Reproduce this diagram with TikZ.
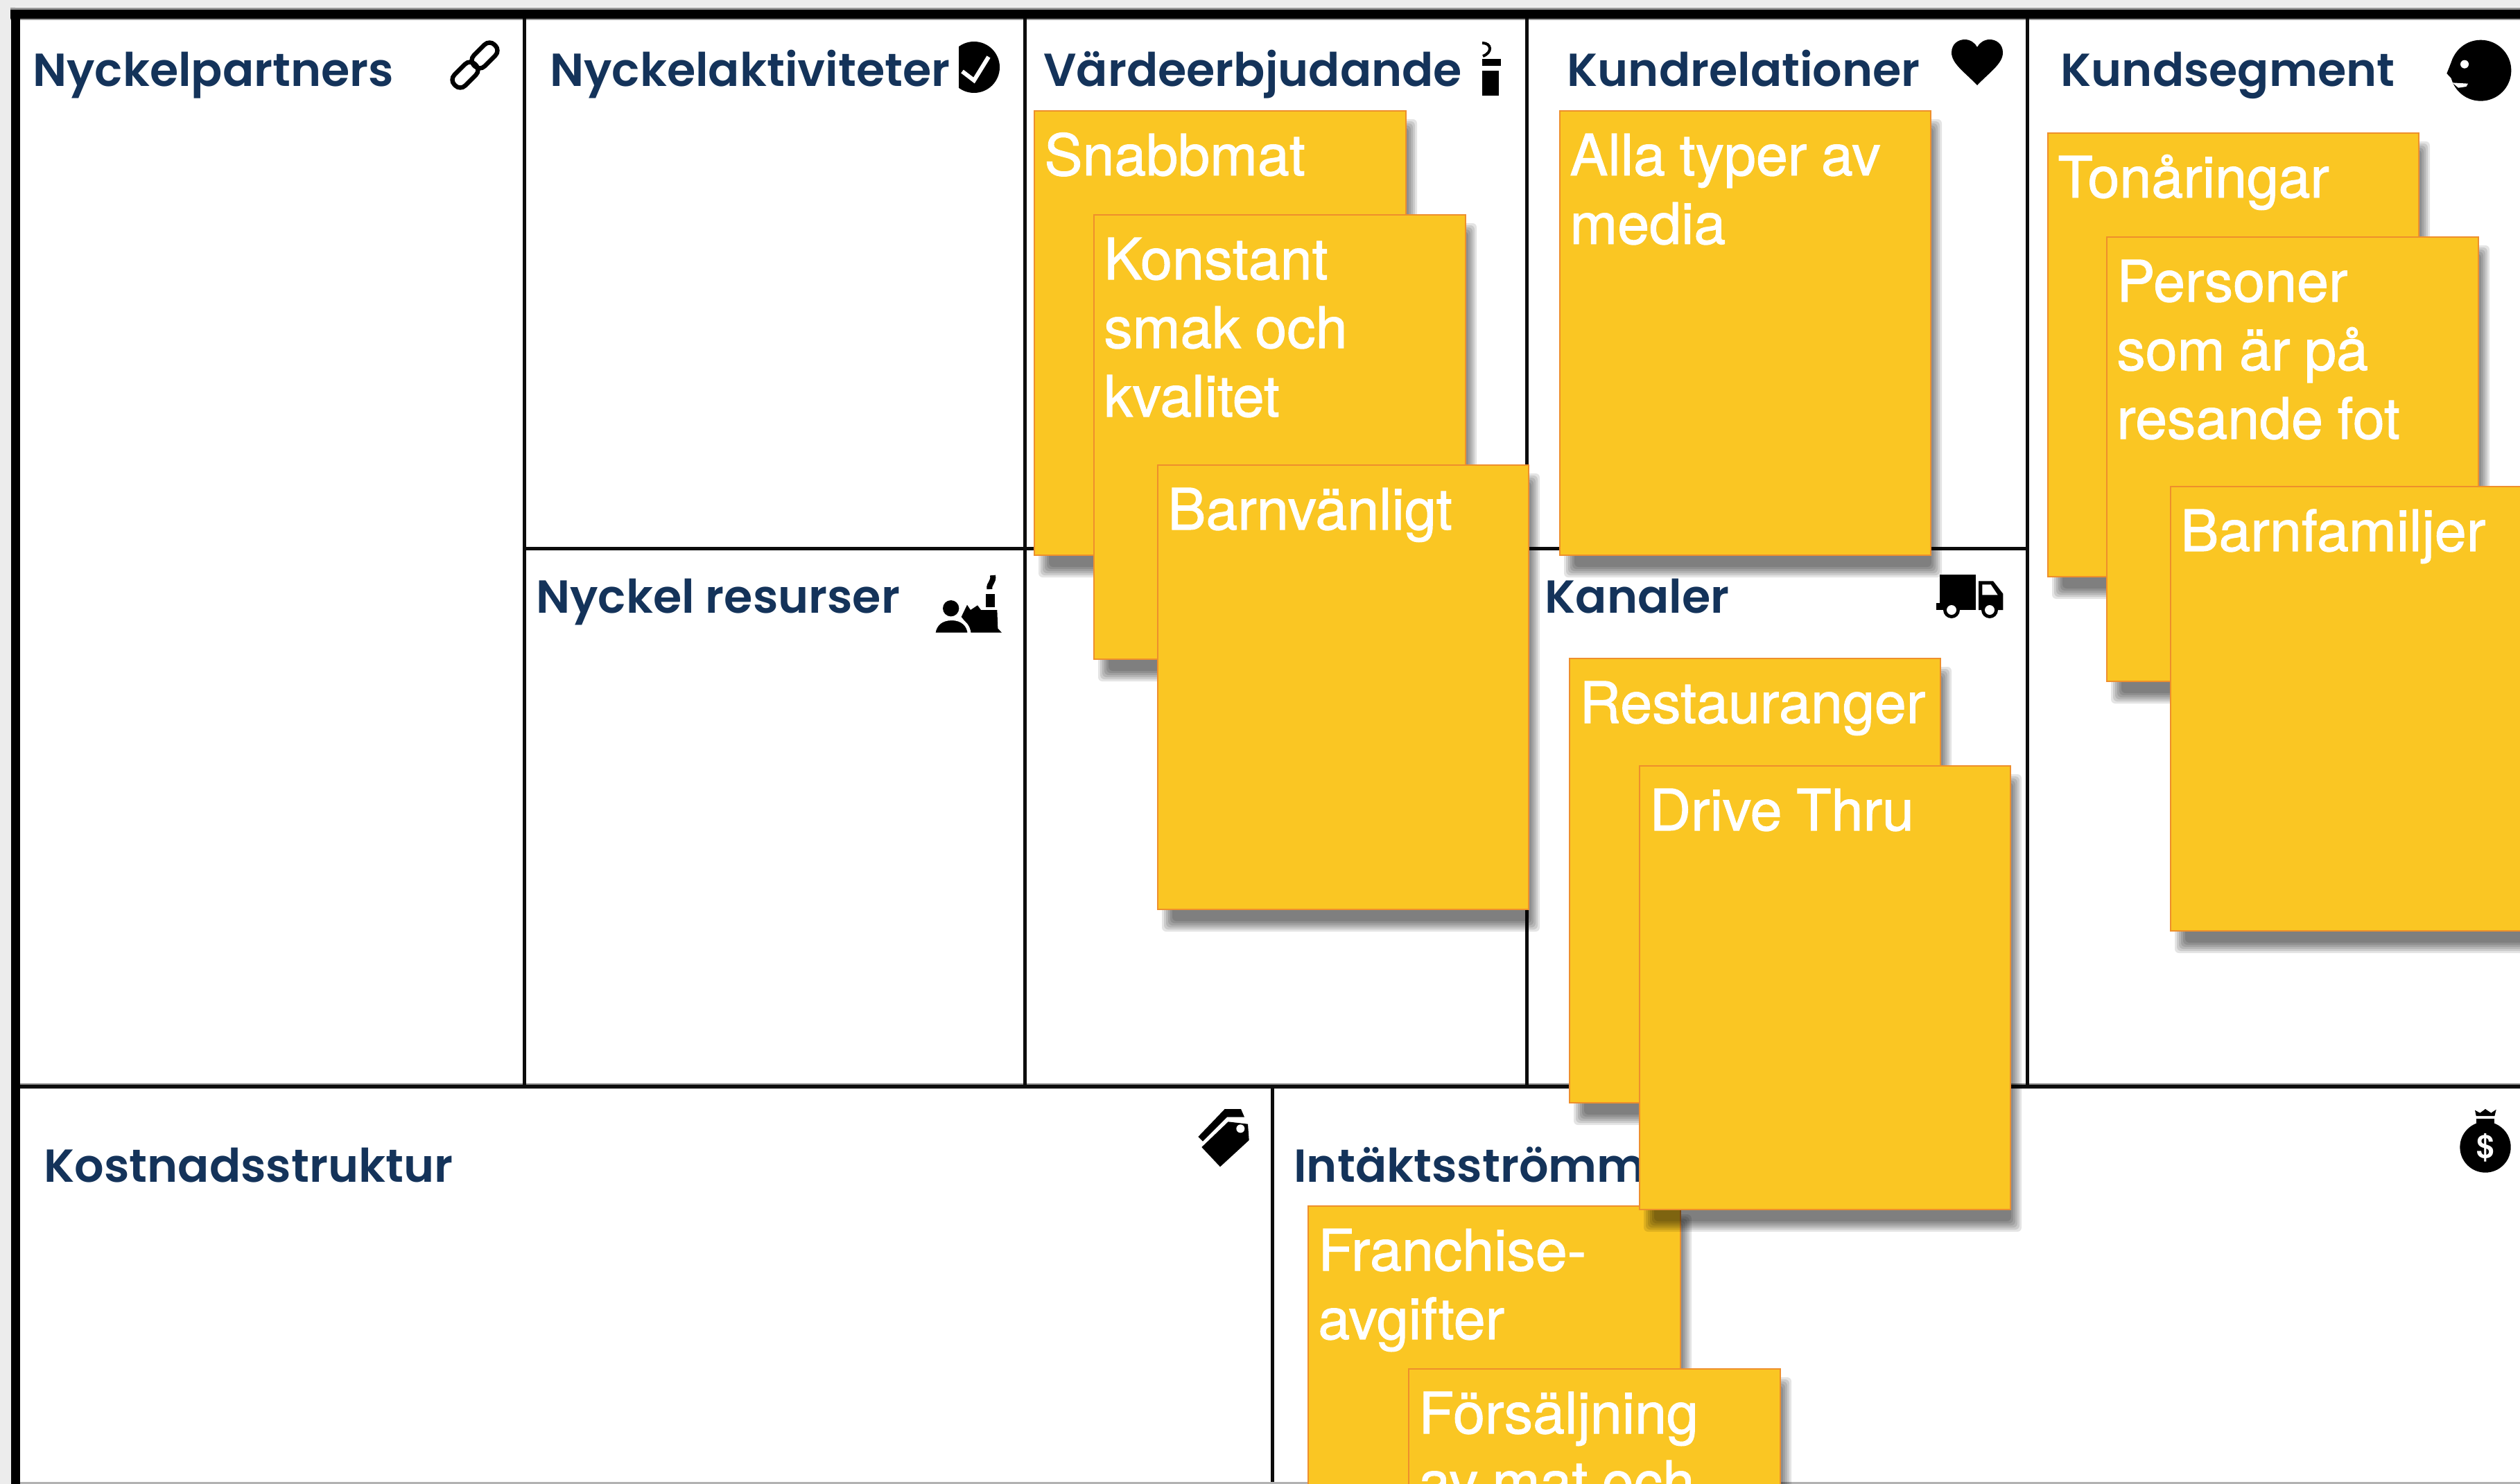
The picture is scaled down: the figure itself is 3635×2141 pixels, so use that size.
\documentclass[tikz,border=0pt]{standalone}
\usepackage{fontspec}
\setmainfont{TeX Gyre Heros}
\newfontfamily\hdfont{Poppins SemiBold}
\newfontfamily\notefont{TeX Gyre Heros}[FakeBold=1.2]
\definecolor{navy}{HTML}{14335A}
\definecolor{notefill}{HTML}{FAC623}
\definecolor{noteline}{HTML}{EE8F2C}
\definecolor{margin}{HTML}{ECECEC}
\definecolor{ink}{HTML}{0C0C0C}
\tikzset{
  gridline/.style={draw=ink,line width=2.5pt},
  softline/.style={draw=black!45,line width=3.6pt},
  hd/.style={inner sep=0pt,anchor=base west,text=navy,font=\hdfont\fontsize{33.4}{40}\selectfont},
  notebox/.style={draw=noteline,fill=notefill,line width=1.2pt,inner sep=0pt,outer sep=0pt},
  notetext/.style={inner sep=0pt,anchor=base west,text=white,align=left,text width=250pt,font=\notefont\fontsize{41.3}{49.5}\selectfont},
  zm/.style={x=0.166667pt,y=-0.166667pt},
  icon/.style={fill=black,draw=none},
  hole/.style={fill=white,draw=none}
}
\newcommand{\sticky}[6]{%
  \foreach \i in {0,...,5}{%
    \pgfmathsetmacro{\ins}{\i*3}%
    \fill[black,opacity=0.105,rounded corners=3pt] ({#2+6+\ins},{#3+12+\ins}) rectangle ({#4+16-\ins},{#5+32-\ins});
  }%
  \pgfmathsetmacro{\nw}{(#4-#2)*0.5}%
  \pgfmathsetmacro{\nh}{(#5-#3)*0.5}%
  \node[notebox,minimum width=\nw pt,minimum height=\nh pt] (#1) at ({(#2+#4)/2},{(#3+#5)/2}) {};
  \node[notetext] (#1-text) at ({#2+14},{#3+93}) {\spaceskip=.25em\relax #6};
}
\begin{document}
\begin{tikzpicture}[x=0.5pt,y=-0.5pt]
\clip (0,0) rectangle (3635,2141);
\fill[margin] (0,0) rectangle (3635,2141);
\fill[white] (22,10) rectangle (3635,2138);
% outer frame
\fill[black!40] (15,11) rectangle (3635,29);
\fill[black] (15,14) rectangle (3635,27);
\fill[black] (16,14) rectangle (29,2141);
\coordinate (a1) at (29,1567); \coordinate (a2) at (3635,1567);
\coordinate (v1t) at (756,27); \coordinate (v1b) at (756,1567);
\coordinate (v2t) at (1478,27); \coordinate (v2b) at (1478,1567);
\coordinate (v3t) at (2202,27); \coordinate (v3b) at (2202,1567);
\coordinate (v4t) at (2924,27); \coordinate (v4b) at (2924,1567);
\coordinate (v5t) at (1835,1567); \coordinate (v5b) at (1835,2141);
\coordinate (h1) at (756,791); \coordinate (h2) at (1478,791);
\coordinate (h3) at (2202,791); \coordinate (h4) at (2924,791);
\draw[softline] (a1) -- (a2);
\draw[gridline] (a1) -- (a2);
\draw[gridline] (v1t) -- (v1b);
\draw[gridline] (v2t) -- (v2b);
\draw[gridline] (v3t) -- (v3b);
\draw[gridline] (v4t) -- (v4b);
\draw[gridline] (v5t) -- (v5b);
\draw[gridline] (h1) -- (h4);
\fill[black!30] (29,2138) rectangle (3635,2141);
% headers
\node[hd] (h-partners) at (47,125) {Nyckelpartners};
\node[hd] (h-aktiv) at (793,125) {Nyckelaktiviteter};
\node[hd] (h-varde) at (1505,125) {Värdeerbjudande};
\node[hd] (h-relation) at (2260,125) {Kundrelationer};
\node[hd] (h-segment) at (2972,125) {Kundsegment};
\node[hd] (h-resurser) at (773,884) {Nyckel resurser};
\node[hd] (h-kanaler) at (2228,884) {Kanaler};
\node[hd] (h-kostnad) at (63,1705) {Kostnadsstruktur};
\node[hd] (h-intakt) at (1866,1705) {Intäktsströmmar};
% link icon
\draw[black,line width=3.2pt,rounded corners=5pt,shift={(699,80)},rotate=45] (-21,-11) rectangle (21,11);
\draw[black,line width=3.2pt,rounded corners=5pt,shift={(671,108)},rotate=45] (-21,-11) rectangle (21,11);
% check icon
\begin{scope}
\clip (1383,50) rectangle (1450,140);
\fill[black] (1405,97) circle[radius=37];
\draw[white,line width=3pt] (1388,103) -- (1405,116) -- (1426,82);
\end{scope}
% drink icon
\begin{scope}
\clip (2138,50) rectangle (2175,145);
\fill[black] (2130,85) rectangle (2165,95);
\fill[black] (2130,102) rectangle (2162,138);
\draw[black,line width=2pt] (2138,62) .. controls (2152,62) and (2153,76) .. (2139,81);
\end{scope}
% heart icon
\fill[black] (2852,123) .. controls (2835,105) and (2815,92) .. (2815,76) .. controls (2815,63) and (2825,57) .. (2834,57) .. controls (2842,57) and (2849,62) .. (2852,68) .. controls (2855,62) and (2862,57) .. (2870,57) .. controls (2879,57) and (2889,63) .. (2889,76) .. controls (2889,92) and (2869,105) .. (2852,123) -- cycle;
% head icon
\begin{scope}[shift={(3450,0)},zm]
\fill[black] (385,305) circle[radius=132];
\fill[black] (265,250) -- (238,318) -- (270,352) -- (300,400) -- (385,305) -- cycle;
\fill[white] (262,358) -- (330,362) -- (322,375) -- (288,380) -- cycle;
\fill[white] (315,278) circle[radius=18];
\end{scope}
% factory + person icon
\begin{scope}[shift={(1320,800)},zm]
\fill[black] (200,270) -- (225,218) -- (240,240) -- (270,220) -- (285,240) -- (355,240) -- (358,320) -- (375,338) -- (240,338) -- (225,300) -- cycle;
\fill[black] (305,170) rectangle (345,228);
\draw[black,line width=4pt] (322,150) .. controls (318,125) and (342,120) .. (336,90);
\fill[black] (155,233) circle[radius=35];
\draw[white,line width=2.4pt,fill=black] (80,345) .. controls (85,300) and (115,278) .. (158,278) .. controls (205,278) and (232,305) .. (235,345) -- cycle;
\fill[white] (70,340) rectangle (250,360);
\end{scope}
% truck icon
\begin{scope}[shift={(2780,815)},zm]
\fill[black] (55,42) rectangle (210,190);
\fill[black] (38,165) rectangle (70,195);
\fill[black] (60,175) rectangle (210,195);
\fill[black] (222,70) -- (285,70) -- (328,125) -- (328,195) -- (222,195) -- cycle;
\fill[white] (238,85) -- (275,85) -- (305,130) -- (238,130) -- cycle;
\fill[black] (105,195) circle[radius=36];
\fill[white] (105,195) circle[radius=21];
\fill[black] (270,195) circle[radius=36];
\fill[white] (270,195) circle[radius=21];
\end{scope}
% tag icon
\begin{scope}[shift={(1710,1585)},zm]
\fill[black] (55,165) -- (170,45) -- (240,45) -- (255,80) -- (180,80) -- (75,185) -- cycle;
\fill[black] (70,210) -- (185,100) -- (270,110) -- (275,180) -- (150,295) -- cycle;
\fill[white] (238,130) circle[radius=18];
\end{scope}
% money bag icon
\begin{scope}[shift={(3530,1590)},zm]
\fill[black] (165,195) circle[radius=110];
\fill[black] (120,35) -- (142,47) -- (165,30) -- (190,47) -- (212,32) -- (205,60) -- (125,60) -- cycle;
\fill[black] (125,72) rectangle (205,92);
\end{scope}
\node[inner sep=0pt,text=white,font=\bfseries\fontsize{23}{23}\selectfont] (bag-dollar) at (3585,1656) {\$};
% sticky notes
\sticky{snabbmat}{1492}{160}{2028}{801}{Snabbmat}
\sticky{konstant}{1578}{310}{2114}{951}{Konstant\\smak och\\kvalitet}
\sticky{barn}{1670}{671}{2205}{1312}{Barnvänligt}
\sticky{alla}{2250}{160}{2785}{801}{Alla typer av\\media}
\sticky{tonaring}{2954}{192}{3489}{832}{Tonåringar}
\sticky{personer}{3039}{342}{3575}{983}{Personer\\som är på\\resande fot}
\sticky{barnfam}{3131}{702}{3667}{1343}{Barnfamiljer}
\sticky{restaurang}{2264}{950}{2799}{1591}{Restauranger}
\sticky{franchise}{1887}{1740}{2424}{2381}{Franchise-\\avgifter}
\sticky{forsaljning}{2032}{1975}{2568}{2616}{Försäljning\\av mat och}
\sticky{drive}{2365}{1105}{2900}{1745}{Drive Thru}
\end{tikzpicture}
\end{document}
